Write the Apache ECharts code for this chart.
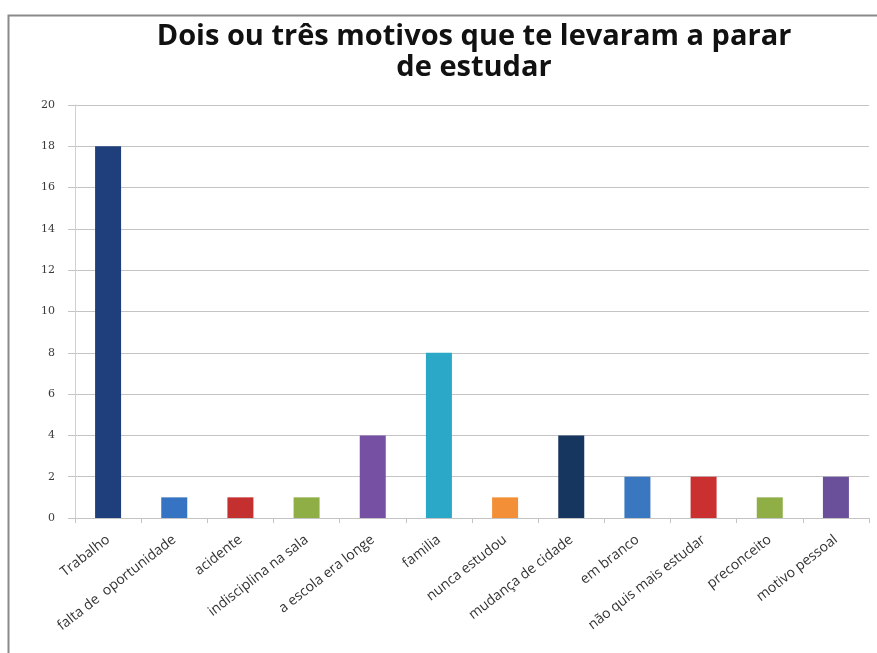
<!DOCTYPE html>
<html>
<head>
<meta charset="utf-8">
<script src="https://cdn.jsdelivr.net/npm/echarts@6/dist/echarts.min.js"></script>
<style>
  html, body { margin: 0; padding: 0; background: #ffffff; }
  #chart { width: 877px; height: 653px; }
</style>
</head>
<body>
<div id="chart"></div>
<script>
// Reasons for leaving school: counts of answers per reason
const categories = [
  'Trabalho', 'falta de  oportunidade', 'acidente', 'indisciplina na sala',
  'a escola era longe', 'familia', 'nunca estudou', 'mudança de cidade',
  'em branco', 'não quis mais estudar', 'preconceito', 'motivo pessoal'
];
const counts = [18, 1, 1, 1, 4, 8, 1, 4, 2, 2, 1, 2];
const barColors = [
  '#1f3f7c', '#3673c2', '#c3302f', '#8fae46', '#7550a3', '#2ba7c7',
  '#f39037', '#17365f', '#3a77c1', '#c9302f', '#8fae46', '#6a4f9b'
];
const yTicks = { min: 0, max: 20, step: 2 };

const chart = echarts.init(document.getElementById('chart'), null, { renderer: 'canvas' });

chart.setOption({
  backgroundColor: '#ffffff',
  animation: false,
  title: {
    text: 'Dois ou três motivos que te levaram a parar\nde estudar',
    left: 469,
    textAlign: 'center',
    top: 16,
    textStyle: {
      fontFamily: 'Open Sans',
      fontWeight: 'bold',
      fontSize: 29,
      lineHeight: 31,
      color: '#111111'
    }
  },
  graphic: [{
    type: 'polyline',
    shape: { points: [[8.5, 653], [8.5, 15.5], [877, 15.5]] },
    style: { stroke: '#8a8a8a', lineWidth: 2, fill: null },
    silent: true
  }],
  grid: { left: 75, right: 8, top: 105, bottom: 135, containLabel: false },
  xAxis: {
    type: 'category',
    data: categories,
    axisLine: { lineStyle: { color: '#c4c4c4', width: 1 } },
    axisTick: { show: true, length: 5, lineStyle: { color: '#c4c4c4' } },
    axisLabel: {
      rotate: 38,
      interval: 0,
      margin: 20,
      fontFamily: 'Open Sans',
      fontSize: 14,
      color: '#333333'
    }
  },
  yAxis: {
    type: 'value',
    min: yTicks.min,
    max: yTicks.max,
    interval: yTicks.step,
    axisLine: { show: true, lineStyle: { color: '#d0d0d0' } },
    axisTick: { show: true, length: 7, lineStyle: { color: '#c4c4c4' } },
    axisLabel: {
      margin: 20,
      fontFamily: 'DejaVu Serif',
      fontSize: 11,
      color: '#3a3a3a'
    },
    splitLine: { lineStyle: { color: '#c4c4c4', width: 1 } }
  },
  series: [{
    type: 'bar',
    data: counts.map((v, i) => ({ value: v, itemStyle: { color: barColors[i] } })),
    barWidth: 26
  }]
});
</script>
</body>
</html>
